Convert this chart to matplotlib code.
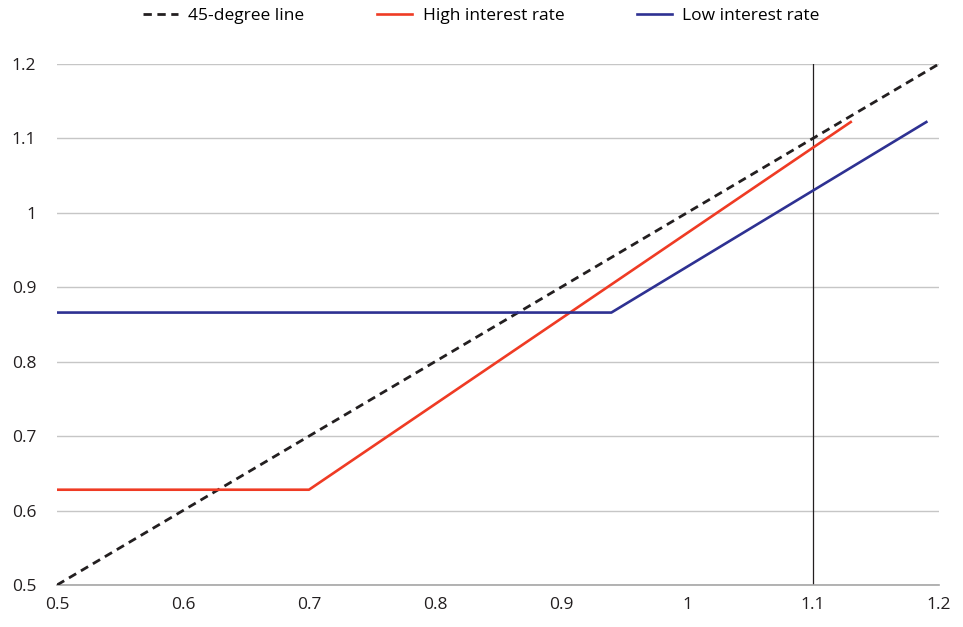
import matplotlib.pyplot as plt
from matplotlib.ticker import FuncFormatter

# data
diag_x = [0.5, 1.2]
diag_y = [0.5, 1.2]
high_x = [0.5, 0.7, 1.13]
high_y = [0.628, 0.628, 1.122]
low_x = [0.5, 0.94, 1.19]
low_y = [0.866, 0.866, 1.122]
vline_x = 1.1
ticks = [0.5, 0.6, 0.7, 0.8, 0.9, 1.0, 1.1, 1.2]

plt.rcParams['font.family'] = ['Open Sans', 'DejaVu Sans']
plt.rcParams['font.size'] = 12

fig = plt.figure(figsize=(9.63, 6.27), dpi=100)
ax = fig.add_axes([0.0592, 0.067, 0.9158, 0.831])

ax.plot(diag_x, diag_y, color='#231f20', lw=2.0, ls=(0, (3.0, 2.0)), label='45-degree line', zorder=3)
ax.plot(high_x, high_y, color='#ef3b24', lw=1.9, label='High interest rate', zorder=4)
ax.plot(low_x, low_y, color='#2e3192', lw=1.9, label='Low interest rate', zorder=4)
ax.axvline(vline_x, color='#231f20', lw=0.9, zorder=2)

ax.set_xlim(0.5, 1.2)
ax.set_ylim(0.5, 1.2)
ax.set_xticks(ticks)
ax.set_yticks(ticks)
fmt = FuncFormatter(lambda v, p: ('%.1f' % v).rstrip('0').rstrip('.'))
ax.xaxis.set_major_formatter(fmt)
ax.yaxis.set_major_formatter(fmt)
ax.tick_params(length=0, labelsize=12.5, colors='#231f20')
ax.tick_params(axis='x', pad=9)
ax.tick_params(axis='y', pad=15)
ax.grid(axis='y', color='#c6c6c6', lw=1.0)
ax.set_axisbelow(True)
for s in ['top', 'right', 'left']:
    ax.spines[s].set_visible(False)
ax.spines['bottom'].set_color('#a6a6a6')
ax.spines['bottom'].set_linewidth(1.2)

fig.legend(loc='upper center', bbox_to_anchor=(0.5, 1.012), ncol=3, frameon=False,
           fontsize=12.5, handlelength=2.0, columnspacing=4.2, handletextpad=0.6)

fig.savefig('out.png', dpi=100)
